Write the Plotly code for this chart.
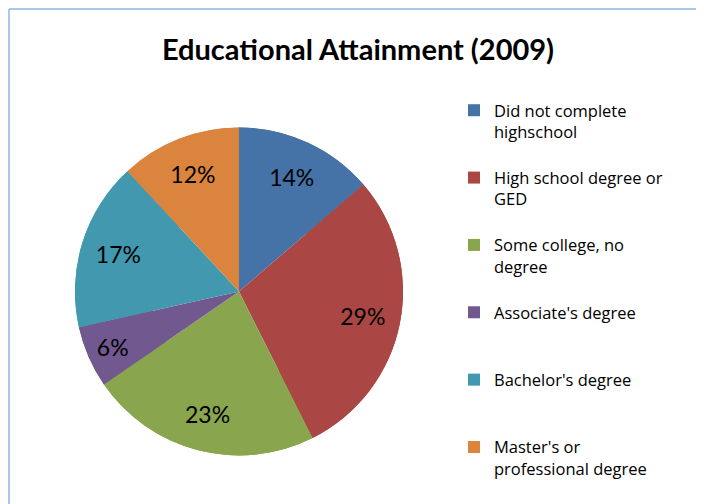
import plotly.graph_objects as go

categories = [
    "Did not complete<br>highschool<br> ",
    "High school degree or<br>GED<br> ",
    "Some college, no<br>degree<br> ",
    "Associate's degree<br> <br> ",
    "Bachelor's degree<br> <br> ",
    "Master's or<br>professional degree<br> ",
]
values = [13.7, 28.9, 22.8, 6.1, 16.6, 11.9]
colors = ["#4572A7", "#AA4643", "#89A54E", "#71588F", "#4198AF", "#DB843D"]

W, H = 704, 504
CX, CY, R = 231, 283.5, 164
dom = dict(x=[(CX - R) / W, (CX + R) / W], y=[1 - (CY + R) / H, 1 - (CY - R) / H])

fig = go.Figure()
# full pie (slices + legend)
fig.add_trace(go.Pie(
    labels=categories, values=values, sort=False, direction="clockwise", rotation=0,
    marker=dict(colors=colors, line=dict(width=0)), textinfo="none",
    domain=dom, hoverinfo="label+percent", showlegend=True,
))
# ring overlay carrying the percentage labels, placed like Excel's labels
fig.add_trace(go.Pie(
    labels=categories, values=values, sort=False, direction="clockwise", rotation=0,
    hole=0.54,
    marker=dict(colors=colors, line=dict(width=0)),
    texttemplate="%{percent:.0%}", textposition="inside",
    insidetextorientation="horizontal",
    textfont=dict(family="Lato", size=23, color="#000000"),
    domain=dom, hoverinfo="skip", showlegend=False,
))

fig.update_layout(
    width=W, height=H,
    margin=dict(l=0, r=0, t=0, b=0),
    paper_bgcolor="white",
    title=dict(text="<b>Educational Attainment (2009)</b>", x=350 / W, xanchor="center",
               y=1 - 42 / H, yanchor="middle",
               font=dict(family="Lato", size=29, color="#000000")),
    showlegend=True,
    legend=dict(x=446 / W, xanchor="left", y=1 - 85 / H, yanchor="top",
                font=dict(family="Open Sans", size=16.5, color="#000000"),
                valign="top", bgcolor="rgba(0,0,0,0)"),
    shapes=[
        dict(type="line", xref="paper", yref="paper", x0=1 / W, x1=1.01, y0=1 - 1 / H, y1=1 - 1 / H,
             line=dict(color="#8EB4E3", width=1.5)),
        dict(type="line", xref="paper", yref="paper", x0=1 / W, x1=1 / W, y0=1 - 1 / H, y1=-0.01,
             line=dict(color="#8EB4E3", width=1.5)),
    ],
)

fig.write_html("out.html")
